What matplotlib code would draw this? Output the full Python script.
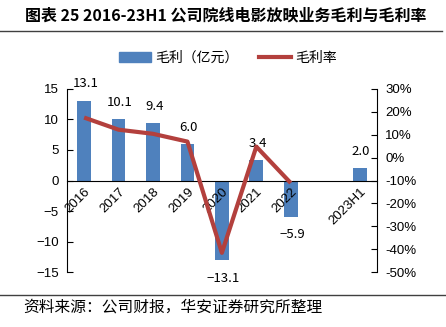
import matplotlib
matplotlib.use("Agg")
import matplotlib.pyplot as plt
import numpy as np
from matplotlib.patches import Patch
from matplotlib.lines import Line2D

plt.rcParams['font.family'] = ['Liberation Sans', 'Noto Sans CJK SC', 'DejaVu Sans']
plt.rcParams['axes.unicode_minus'] = True

categories = ['2016', '2017', '2018', '2019', '2020', '2021', '2022', '', '2023H1']
gross_profit = [13.1, 10.1, 9.4, 6.0, -13.1, 3.4, -5.9, np.nan, 2.0]
gross_margin = [17.5, 12.2, 10.4, 7.0, -41.6, 4.8, -11.1, np.nan, np.nan]
left_ticks = [-15, -10, -5, 0, 5, 10, 15]
right_ticks = [-50, -40, -30, -20, -10, 0, 10, 20, 30]

bar_color = '#4F81BD'
line_color = '#B3403D'

fig = plt.figure(figsize=(4.46, 3.27), dpi=100)
ax = fig.add_axes([0.150, 0.168, 0.695, 0.560])
ax2 = ax.twinx()

x = np.arange(len(categories))
ax.bar(x, gross_profit, width=0.4, color=bar_color, zorder=2)
ax.set_ylim(-15, 15)
ax.set_yticks(left_ticks)
ax.set_xlim(-0.5, len(categories) - 0.5)
ax.spines['top'].set_visible(False)
ax.spines['right'].set_visible(False)
ax.spines['bottom'].set_position(('data', 0))
ax.spines['bottom'].set_zorder(4)
ax.xaxis.set_zorder(4)
ax.tick_params(axis='y', direction='in', length=4, labelsize=9.5, pad=6)
ax.tick_params(axis='x', length=0, pad=4)
ax.set_xticks(x)
ax.set_xticklabels(categories, rotation=45, ha='right', va='top',
                   rotation_mode='anchor', fontsize=9.5)

ax2.plot(x, gross_margin, color=line_color, lw=3, zorder=3, solid_capstyle='butt')
ax2.set_ylim(-50, 30)
ax2.set_yticks(right_ticks)
ax2.set_yticklabels([f'{t}%' for t in right_ticks])
ax2.spines['top'].set_visible(False)
ax2.spines['bottom'].set_visible(False)
ax2.spines['left'].set_visible(False)
ax2.tick_params(axis='y', direction='in', length=4, labelsize=9.5, pad=6)

for xi, v in zip(x, gross_profit):
    if np.isnan(v):
        continue
    off = 12 if v > 0 else -13
    ax.annotate(f'{v:.1f}'.replace('-', '\u2212'), (xi, v), xytext=(1, off),
                textcoords='offset points', ha='center', va='center',
                fontsize=9.5, family=['Noto Sans CJK SC', 'DejaVu Sans'],
                annotation_clip=False, zorder=5)

handles = [Patch(color=bar_color), Line2D([0], [0], color=line_color, lw=3)]
fig.legend(handles, ['毛利（亿元）', '毛利率'], loc='center', bbox_to_anchor=(0.511, 0.823),
           ncol=2, frameon=False, handlelength=2.3, handletextpad=0.3, columnspacing=1.5,
           prop={'family': ['Noto Sans CJK SC'], 'size': 10})

fig.text(0.055, 0.953, '图表 25 2016-23H1 公司院线电影放映业务毛利与毛利率', fontsize=11.5,
         fontweight='bold', family=['Noto Sans CJK SC'], va='center', ha='left')
fig.add_artist(Line2D([0.0, 0.99], [0.905, 0.905], color='#404040', lw=1))
fig.add_artist(Line2D([0.0, 1.0], [0.098, 0.098], color='#404040', lw=1))
fig.text(0.052, 0.060, '资料来源：公司财报，华安证券研究所整理', fontsize=11.3,
         family=['Noto Sans CJK SC'], va='center', ha='left')

fig.savefig('out.png', dpi=100)
